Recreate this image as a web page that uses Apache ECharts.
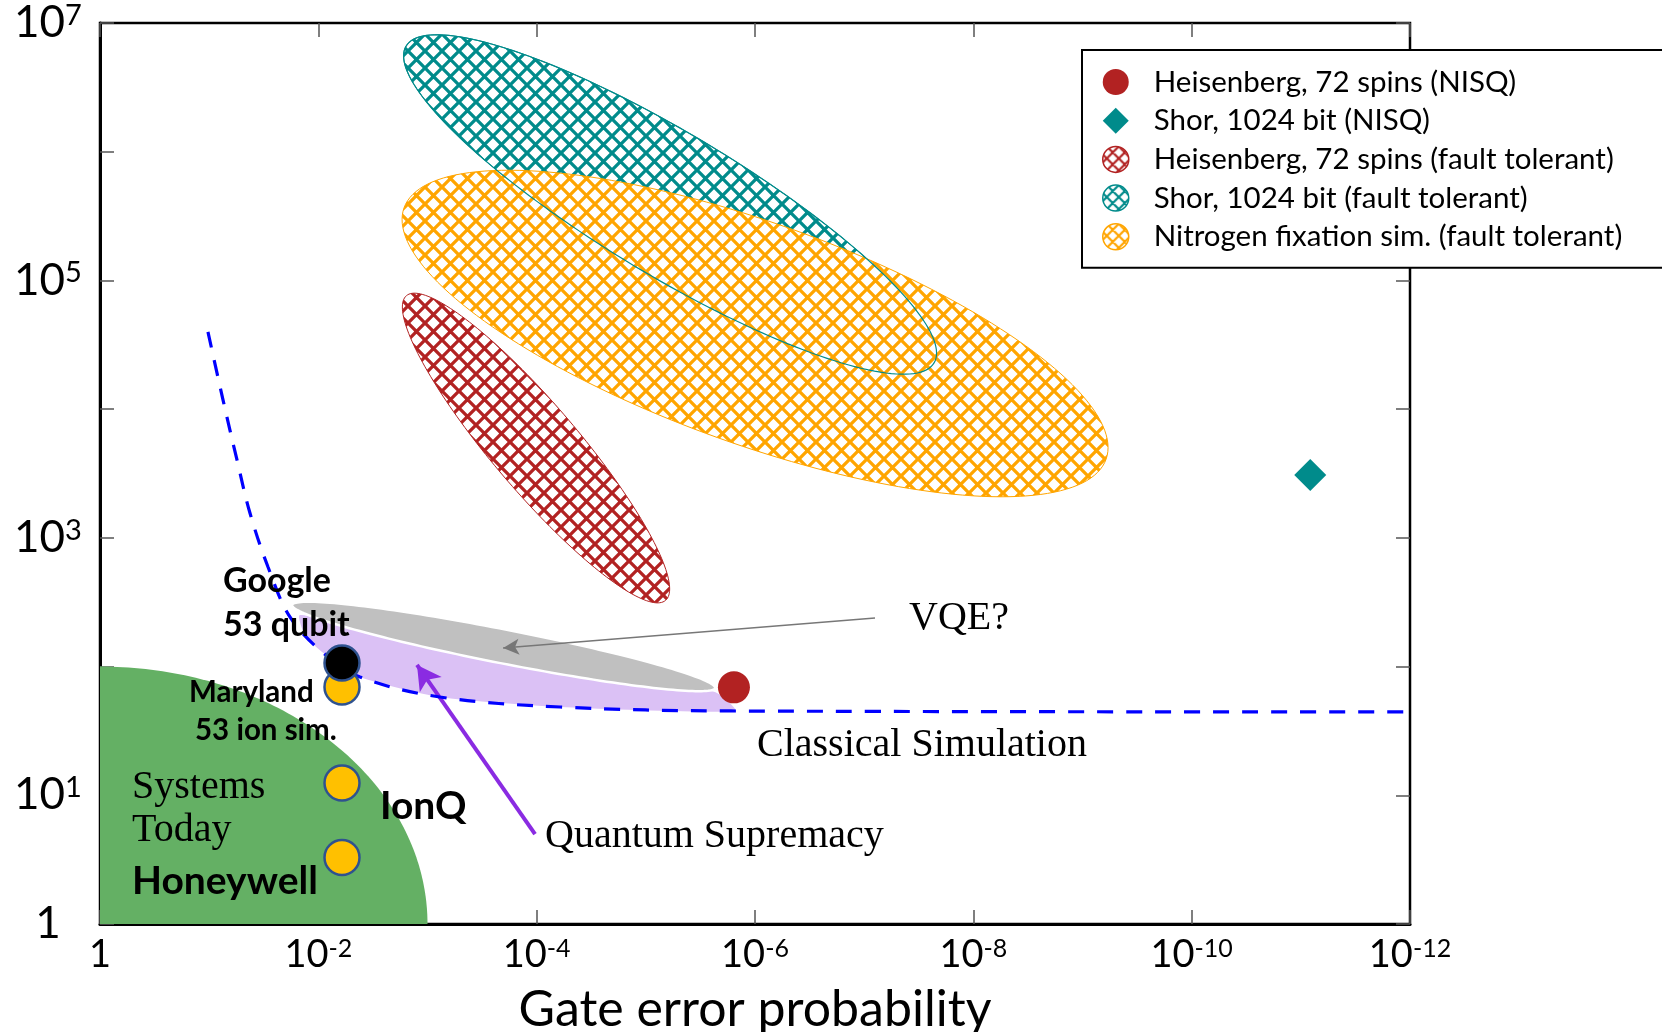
<!DOCTYPE html>
<html><head><meta charset="utf-8">
<script src="https://cdn.jsdelivr.net/npm/echarts@6/dist/echarts.min.js"></script>
<style>html,body{margin:0;padding:0;background:#fff}#c{width:1662px;height:1032px}</style>
</head><body><div id="c"></div>
<script>
// ---------------- data ----------------
const xTickValues = [1, 1e-2, 1e-4, 1e-6, 1e-8, 1e-10, 1e-12];
const yTickValues = [1, 1e1, 1e2, 1e3, 1e4, 1e5, 1e6, 1e7];
const yLabelValues = [1, 1e1, 1e3, 1e5, 1e7];

const heisenbergNisq = [[1.56e-6, 69]];
const shorNisq = [[8.2e-12, 3080]];

// ellipses: major-axis end A, major-axis end B, minor-axis end
const heisenbergFT = [[1.56e-3, 76100], [6.59e-6, 327], [5.09e-5, 8220]];
const shorFT = [[1.57e-3, 6.62e6], [2.29e-8, 22850], [2.77e-6, 1.156e6]];
const nitrogenFT = [[1.64e-3, 366600], [6.08e-10, 4083], [4.55e-7, 249500]];
const vqeRegion = [[0.0174, 301], [2.32e-6, 68.2], [1.88e-4, 193]];
// systems-today region: corner, top, right
const systemsToday = [[1, 1], [1, 100], [1e-3, 1]];

const classicalBoundary = [
  [0.1026, 39800], [0.0746, 11750], [0.0556, 4030], [0.0423, 1560], [0.0289, 594],
  [0.0182, 243], [0.00906, 128], [0.00415, 83], [7.7e-4, 58], [6.1e-5, 48.5],
  [1.66e-6, 45.2], [1e-12, 44.4]
];
const supremacyRegion = [
  [0.01472, 252], [1.17e-3, 167], [6.1e-5, 103], [2.33e-6, 63.5], [1.52e-6, 45.2],
  [6.1e-5, 48.5], [7.7e-4, 58], [4.15e-3, 83], [9.06e-3, 128], [0.01324, 176]
];

const deviceNames = ['Maryland', 'Google', 'IonQ', 'Honeywell'];
const deviceError = [6.07e-3, 6.07e-3, 6.07e-3, 6.07e-3];
const deviceQubits = [69.4, 106.6, 12.46, 3.29];

const vqeArrow = [[7.96e-8, 238], [2.03e-4, 139.4]];
const supremacyArrow = [[1.035e-4, 5.0], [1.248e-3, 102.9]];

// ---------------- styling helpers ----------------
const RED = '#b22222', TEAL = '#008b8b', ORANGE = '#ffa500';
function hatchCanvas(color, s, lw) {
  const cv = document.createElement('canvas');
  cv.width = s; cv.height = s;
  const g = cv.getContext('2d');
  g.fillStyle = '#fff'; g.fillRect(0, 0, s, s);
  g.strokeStyle = color; g.lineWidth = lw;
  g.beginPath();
  for (let k = -1; k <= 1; k++) {
    g.moveTo(k * s, 0); g.lineTo(k * s + s, s);
    g.moveTo(k * s + s, 0); g.lineTo(k * s, s);
  }
  g.stroke();
  return cv;
}
function pattern(color, s, lw) { return { type: 'pattern', image: hatchCanvas(color, s, lw), repeat: 'repeat' }; }

function ellipseRender(style) {
  return function (params, api) {
    const A = api.coord([api.value(0), api.value(1)]);
    const B = api.coord([api.value(2), api.value(3)]);
    const M = api.coord([api.value(4), api.value(5)]);
    const c = [(A[0] + B[0]) / 2, (A[1] + B[1]) / 2];
    const u = [(B[0] - A[0]) / 2, (B[1] - A[1]) / 2];
    const v = [M[0] - c[0], M[1] - c[1]];
    const pts = [];
    for (let i = 0; i < 180; i++) {
      const t = i / 180 * 2 * Math.PI;
      pts.push([c[0] + Math.cos(t) * u[0] + Math.sin(t) * v[0], c[1] + Math.cos(t) * u[1] + Math.sin(t) * v[1]]);
    }
    return { type: 'polygon', shape: { points: pts }, style: style };
  };
}
function ellipseSeries(name, pts, style, z) {
  return {
    type: 'custom', name: name, data: [pts.flat()], encode: { x: [0, 2, 4], y: [1, 3, 5] },
    renderItem: ellipseRender(style), silent: true, z: z
  };
}

function expFmt(v) {
  const e = Math.round(Math.log10(v));
  return e === 0 ? '1' : '10{s|' + e + '}';
}

const chart = echarts.init(document.getElementById('c'), null, { renderer: 'canvas', width: 1662, height: 1032 });

const tickStyle = { color: '#555', width: 1.5 };
const HS = 17, HW = 3.3;
const option = {
  animation: false,
  backgroundColor: '#fff',
  grid: { left: 100, top: 23, width: 1310, height: 901, show: true, borderColor: '#000', borderWidth: 2.5,
          backgroundColor: 'transparent', containLabel: false, outerBoundsMode: 'none' },
  legend: {
    orient: 'vertical', left: 1082, top: 50, padding: [17, 60, 16, 20],
    itemWidth: 66, itemHeight: 26, itemGap: 8.7, symbolKeepAspect: true,
    backgroundColor: '#fff', borderColor: '#000', borderWidth: 2, borderRadius: 0,
    textStyle: { fontFamily: 'Lato', fontSize: 29.5, color: '#000', lineHeight: 26 },
    selectedMode: false, z: 20,
    data: [
      { name: 'Heisenberg, 72 spins (NISQ)', icon: 'circle', itemStyle: { color: RED } },
      { name: 'Shor, 1024 bit (NISQ)', icon: 'path://M0,-10L10,0L0,10L-10,0Z', itemStyle: { color: TEAL } },
      { name: 'Heisenberg, 72 spins (fault tolerant)', icon: 'circle', itemStyle: { color: pattern(RED, 12, 2.2), borderColor: RED, borderWidth: 1.5 } },
      { name: 'Shor, 1024 bit (fault tolerant)', icon: 'circle', itemStyle: { color: pattern(TEAL, 12, 2.2), borderColor: TEAL, borderWidth: 1.5 } },
      { name: 'Nitrogen fixation sim. (fault tolerant)', icon: 'circle', itemStyle: { color: pattern(ORANGE, 12, 2.2), borderColor: ORANGE, borderWidth: 1.5 } }
    ]
  },
  xAxis: [
    {
      type: 'log', logBase: 10, min: 1e-12, max: 1, inverse: true, position: 'bottom',
      axisLine: { show: true, lineStyle: { color: '#000', width: 3 } },
      axisTick: { show: true, inside: true, length: 14, lineStyle: tickStyle, customValues: xTickValues },
      axisLabel: { customValues: xTickValues, formatter: expFmt, margin: 12, fontFamily: 'Lato', fontSize: 38, color: '#000',
                   rich: { s: { fontFamily: 'Lato', fontSize: 25, verticalAlign: 'top', color: '#000' } } },
      splitLine: { show: false }, minorTick: { show: false },
      name: 'Gate error probability', nameLocation: 'middle', nameGap: 61,
      nameTextStyle: { fontFamily: 'Lato', fontSize: 50, color: '#000' }
    },
    {
      type: 'log', logBase: 10, min: 1e-12, max: 1, inverse: true, position: 'top',
      axisLine: { show: false },
      axisTick: { show: true, inside: true, length: 14, lineStyle: tickStyle, customValues: xTickValues },
      axisLabel: { show: false }, splitLine: { show: false }
    }
  ],
  yAxis: [
    {
      type: 'log', logBase: 10, min: 1, max: 1e7, position: 'left',
      axisLine: { show: true, lineStyle: { color: '#000', width: 3 } },
      axisTick: { show: true, inside: true, length: 14, lineStyle: tickStyle, customValues: yTickValues },
      axisLabel: { customValues: yLabelValues, formatter: expFmt, margin: 52, align: 'center', fontFamily: 'Lato', fontSize: 44, color: '#000',
                   rich: { s: { fontFamily: 'Lato', fontSize: 29, verticalAlign: 'top', color: '#000' } } },
      splitLine: { show: false }, minorTick: { show: false }
    },
    {
      type: 'log', logBase: 10, min: 1, max: 1e7, position: 'right',
      axisLine: { show: false },
      axisTick: { show: true, inside: true, length: 14, lineStyle: tickStyle, customValues: yTickValues },
      axisLabel: { show: false }, splitLine: { show: false }
    }
  ],
  series: [
    {
      type: 'custom', name: 'Systems Today', data: [systemsToday.flat()], encode: { x: [0, 2, 4], y: [1, 3, 5] }, silent: true, z: 1,
      renderItem: function (params, api) {
        const C = api.coord([api.value(0), api.value(1)]);
        const T = api.coord([api.value(2), api.value(3)]);
        const R = api.coord([api.value(4), api.value(5)]);
        const pts = [C];
        for (let i = 0; i <= 90; i++) {
          const t = i / 90 * Math.PI / 2;
          pts.push([C[0] + Math.cos(t) * (R[0] - C[0]) + Math.sin(t) * (T[0] - C[0]),
                    C[1] + Math.cos(t) * (R[1] - C[1]) + Math.sin(t) * (T[1] - C[1])]);
        }
        return { type: 'polygon', shape: { points: pts }, style: { fill: '#64b064' } };
      }
    },
    {
      type: 'custom', name: 'Quantum Supremacy', data: supremacyRegion, encode: { x: 0, y: 1 }, silent: true, z: 2,
      renderItem: function (params, api) {
        if (params.dataIndex !== 0) return null;
        const pts = supremacyRegion.map(p => api.coord(p));
        return { type: 'polygon', shape: { points: pts, smooth: 0.2 }, style: { fill: '#dbc1f5' } };
      }
    },
    ellipseSeries('VQE', vqeRegion, { fill: '#c0c0c0', stroke: '#fff', lineWidth: 2.5 }, 3),
    ellipseSeries('Shor, 1024 bit (fault tolerant)', shorFT, { fill: pattern(TEAL, HS, HW), stroke: TEAL, lineWidth: 1 }, 4),
    ellipseSeries('Nitrogen fixation sim. (fault tolerant)', nitrogenFT, { fill: pattern(ORANGE, HS, HW), stroke: ORANGE, lineWidth: 1 }, 5),
    ellipseSeries('Heisenberg, 72 spins (fault tolerant)', heisenbergFT, { fill: pattern(RED, HS, HW), stroke: RED, lineWidth: 1 }, 6),
    ellipseSeries('Shor outline', shorFT, { fill: 'none', stroke: TEAL, lineWidth: 1.2 }, 7),
    {
      type: 'line', name: 'Classical Simulation', data: classicalBoundary, showSymbol: false, smooth: 0.35, silent: true, z: 8,
      lineStyle: { color: '#0000ff', width: 3.2, type: [16, 13] }
    },
    {
      type: 'scatter', name: 'arrows', data: [], silent: true, z: 9,
      markLine: {
        silent: true, animation: false, symbol: ['none', 'arrow'], symbolSize: [12, 16],
        label: { show: false },
        lineStyle: { color: '#777', width: 1.5, type: 'solid' },
        data: [[{ coord: vqeArrow[0] }, { coord: vqeArrow[1] }]]
      }
    },
    {
      type: 'scatter', name: 'arrows2', data: [], silent: true, z: 9,
      markLine: {
        silent: true, animation: false, symbol: ['none', 'arrow'], symbolSize: [20, 24],
        label: { show: false },
        lineStyle: { color: '#8a2be2', width: 4, type: 'solid' },
        data: [[{ coord: supremacyArrow[0] }, { coord: supremacyArrow[1] }]]
      }
    },
    {
      type: 'scatter', name: 'Heisenberg, 72 spins (NISQ)', data: heisenbergNisq, symbol: 'circle', symbolSize: 32, z: 10,
      itemStyle: { color: RED, opacity: 1 }
    },
    {
      type: 'scatter', name: 'Shor, 1024 bit (NISQ)', data: shorNisq, symbol: 'diamond', symbolSize: 32, z: 10,
      itemStyle: { color: TEAL, opacity: 1 }
    },
    {
      type: 'scatter', name: 'Devices', z: 11, symbol: 'circle', symbolSize: 35,
      data: deviceNames.map((n, i) => ({
        name: n, value: [deviceError[i], deviceQubits[i]],
        itemStyle: { color: n === 'Google' ? '#000' : '#ffc000', borderColor: '#2f528f', borderWidth: 2.5, opacity: 1 }
      }))
    }
  ],
  graphic: [
    { type: 'text', z: 100, x: 223, y: 581, style: { text: 'Google', font: 'bold 34px Lato', fill: '#000', textVerticalAlign: 'middle' } },
    { type: 'text', z: 100, x: 223, y: 625, style: { text: '53 qubit', font: 'bold 34px Lato', fill: '#000', textVerticalAlign: 'middle' } },
    { type: 'text', z: 100, x: 189, y: 692, style: { text: 'Maryland', font: 'bold 29.5px Lato', fill: '#000', textVerticalAlign: 'middle' } },
    { type: 'text', z: 100, x: 195, y: 730, style: { text: '53 ion sim.', font: 'bold 29.5px Lato', fill: '#000', textVerticalAlign: 'middle' } },
    { type: 'text', z: 100, x: 380, y: 806, style: { text: 'IonQ', font: 'bold 39px Lato', fill: '#000', textVerticalAlign: 'middle' } },
    { type: 'text', z: 100, x: 132, y: 881, style: { text: 'Honeywell', font: 'bold 39px Lato', fill: '#000', textVerticalAlign: 'middle' } },
    { type: 'text', z: 100, x: 132, y: 787, style: { text: 'Systems', font: '40px "Liberation Serif"', fill: '#000', textVerticalAlign: 'middle' } },
    { type: 'text', z: 100, x: 132, y: 830, style: { text: 'Today', font: '40px "Liberation Serif"', fill: '#000', textVerticalAlign: 'middle' } },
    { type: 'text', z: 100, x: 909, y: 618, style: { text: 'VQE?', font: '40px "Liberation Serif"', fill: '#000', textVerticalAlign: 'middle' } },
    { type: 'text', z: 100, x: 757, y: 745, style: { text: 'Classical Simulation', font: '40px "Liberation Serif"', fill: '#000', textVerticalAlign: 'middle' } },
    { type: 'text', z: 100, x: 545, y: 836, style: { text: 'Quantum Supremacy', font: '40px "Liberation Serif"', fill: '#000', textVerticalAlign: 'middle' } }
  ]
};
chart.setOption(option);
</script></body></html>
